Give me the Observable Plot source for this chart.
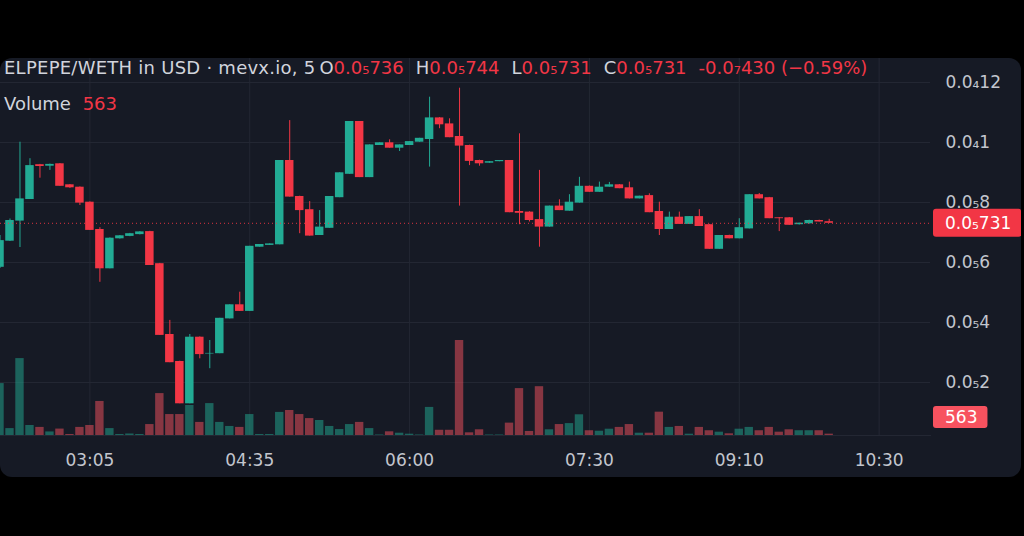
<!DOCTYPE html>
<html><head><meta charset="utf-8">
<script src="https://cdn.jsdelivr.net/npm/d3@7"></script>
<script src="https://cdn.jsdelivr.net/npm/@observablehq/plot@0.6"></script>
<style>
html,body{margin:0;padding:0;background:#000;width:1024px;height:536px;overflow:hidden;}
#panel{position:absolute;left:0;top:58px;width:1021px;height:419px;background:#161a25;border-radius:12px;overflow:hidden;font-family:"DejaVu Sans",sans-serif;}
#panel svg{position:absolute;left:0;top:0;}
.hdr{position:absolute;left:4px;font-size:18px;line-height:21px;color:#d1d4dc;white-space:nowrap;z-index:5;}
.t{letter-spacing:0.25px;margin-right:4px;}
.v{color:#f23645;}
.g{margin-left:12px;}
</style></head><body>
<div id="panel"></div>
<script>
// ---- data (prices in millionths of USD, i.e. value × 1e-6) ----
const UNIT = 1e-6;
const title = "ELPEPE/WETH in USD · mevx.io, 5";
const openP = [5.84,6.71,7.38,8.10,9.26,9.21,9.29,8.59,8.51,8.01, 7.10,5.79,6.79,6.87,6.93,7.03,5.96,3.60,2.70,1.29, 3.51,2.95,2.96,4.12,4.59,4.37,6.51,6.57,6.59,9.40, 8.20,7.76,6.90,7.14,8.16,8.94,10.70,8.83,9.90,9.99, 9.81,9.90,10.01,10.10,10.82,10.62,10.20,9.90,9.40,9.31, 9.36,9.40,7.70,7.68,7.43,7.18,7.88,7.71,7.98,8.54, 8.34,8.51,8.59,8.49,8.12,8.23,7.70,7.10,7.51,7.27, 7.53,7.26,6.44,6.90,6.79,7.12,8.26,8.16,7.49,7.49, 7.26,7.29,7.40,7.36];
const highP = [6.90,7.45,10.01,9.46,9.27,9.28,9.30,8.60,8.52,8.02, 7.16,6.82,6.90,6.97,7.03,7.04,5.97,4.07,2.71,3.60, 3.52,3.40,4.14,4.59,5.01,6.54,6.60,6.62,9.40,10.73, 8.21,8.03,7.73,8.20,8.99,10.70,10.70,9.92,9.99,10.09, 9.92,10.03,10.14,11.51,10.83,10.79,11.81,9.91,9.41,9.36, 9.40,9.40,10.29,7.69,9.07,7.88,8.09,8.26,8.84,8.55, 8.68,8.67,8.60,8.68,8.21,8.29,8.01,7.68,7.68,7.53, 7.76,7.27,6.90,6.91,7.46,8.26,8.30,8.17,7.50,7.50, 7.31,7.41,7.41,7.44];
const lowP = [5.80,6.70,6.50,8.10,8.81,9.07,8.54,8.47,7.90,7.07, 5.34,5.79,6.78,6.86,6.92,5.90,3.57,2.66,1.29,1.29, 2.79,2.46,2.96,4.12,4.37,4.37,6.51,6.57,6.59,8.18, 6.96,6.88,6.90,7.14,8.16,8.94,8.83,8.83,9.90,9.81, 9.70,9.90,10.01,9.18,10.46,10.16,7.88,9.23,9.21,9.31, 9.36,7.66,7.26,7.35,6.51,7.18,7.73,7.71,7.98,8.34, 8.34,8.51,8.46,8.12,8.12,7.66,6.90,7.10,7.27,7.27, 7.20,6.44,6.44,6.79,6.79,7.12,8.12,7.46,7.03,7.24, 7.25,7.28,7.35,7.307];
const closeP = [6.73,7.40,8.12,9.23,9.20,9.27,8.54,8.49,7.98,7.07, 5.79,6.81,6.89,6.96,7.02,5.90,3.57,2.66,1.29,3.51, 2.93,2.97,4.14,4.59,4.37,6.54,6.60,6.62,9.40,8.18, 7.73,6.88,7.18,8.20,8.99,10.70,8.83,9.92,9.99,9.81, 9.92,10.03,10.14,10.82,10.59,10.16,9.88,9.37,9.29,9.36, 9.40,7.66,7.64,7.40,7.18,7.88,7.73,8.01,8.54,8.34, 8.51,8.59,8.46,8.12,8.21,7.66,7.10,7.51,7.27,7.53, 7.20,6.44,6.90,6.79,7.16,8.26,8.12,7.46,7.46,7.24, 7.31,7.40,7.350,7.307];
const volume = [21800,2900,32300,4200,3400,1500,2700,420,3400,4200, 14300,2900,420,630,420,4600,17600,8800,8800,12600, 5500,13400,5500,3800,3400,8800,420,420,9700,10500, 8800,7100,6300,3800,2500,4600,5500,2900,210,1550, 970,550,210,11800,2200,2200,39900,1130,2400,210, 210,5200,19700,1700,20500,2400,4600,5000,8700,2000, 1800,2650,3400,4600,970,970,9800,3400,3800,550, 3400,2000,1400,710,2650,3400,2000,3400,1400,2400, 2000,2000,2000,563];
const tickIndex = [9, 25, 41, 59, 74, 88];
const tickLabel = ["03:05", "04:35", "06:00", "07:30", "09:10", "10:30"];
const priceTicks = [2, 4, 6, 8, 10, 12];

// ---- styling ----
const GREEN = "#22ab94", RED = "#f23645", VRED = "#f7525f";
const GRID = "#232733", AXIS_TXT = "#c3c6ce";
const W = 1021, H = 419;

const SUB = "₀₁₂₃₄₅₆₇₈₉";
function tvFormat(v, sig) {
  const sign = v < 0 ? "-" : "";
  const [m, ex] = Math.abs(v).toExponential((sig || 4) - 1).split("e");
  let digits = m.replace(".", "");
  if (!sig) digits = digits.replace(/0+$/, "") || "0";
  const zeros = -(+ex) - 1;
  return sign + "0.0" + [...String(zeros)].map(c => SUB[+c]).join("") + digits;
}

const candles = openP.map((o, i) => ({i, open: o, high: highP[i], low: lowP[i], close: closeP[i], volume: volume[i], up: closeP[i] >= o}));
const col = d => d.up ? GREEN : RED;
const vcol = d => d.up ? GREEN : VRED;

const xOpt = {type: "linear", domain: [0, 92], range: [-0.5, 918.6], axis: null};
const layer = (marks, y) => Plot.plot({
  width: W, height: H,
  marginTop: 0, marginRight: 91, marginBottom: 42, marginLeft: 0,
  style: {background: "transparent", fontFamily: '"DejaVu Sans", sans-serif', overflow: "visible"},
  x: xOpt, y: {...y, axis: null}, color: {type: "identity"},
  marks
});

const priceY = {domain: [0, 12], range: [384, 24]};

const gridLayer = layer([
  Plot.gridX(tickIndex, {stroke: GRID, strokeOpacity: 1}),
  Plot.gridY(priceTicks, {stroke: GRID, strokeOpacity: 1}),
  Plot.frame({anchor: "bottom", stroke: GRID}),
  Plot.axisX(tickIndex, {tickSize: 0, tickPadding: 18, label: null, fontSize: 17, color: AXIS_TXT,
    tickFormat: d => tickLabel[tickIndex.indexOf(d)]}),
  Plot.axisY(priceTicks, {anchor: "right", tickSize: 0, tickPadding: 15, label: null, fontSize: 17, color: AXIS_TXT,
    textAnchor: "start", tickFormat: d => tvFormat(d * UNIT)})
], priceY);

const volLayer = layer([
  Plot.rectY(candles, {x1: d => d.i - 0.5, x2: d => d.i + 0.5, y: "volume", insetLeft: 0.8, insetRight: 0.8,
    fill: vcol, fillOpacity: 0.5})
], {domain: [0, 42000], range: [377, 277]});

const n = candles.length - 1;
const candleLayer = layer([
  Plot.ruleX(candles, {x: "i", y1: "low", y2: "high", stroke: col, strokeWidth: 1}),
  Plot.rect(candles, {x1: d => d.i - 0.5, x2: d => d.i + 0.5, y1: "open", y2: "close", insetLeft: 0.75, insetRight: 0.75, fill: col}),
  Plot.ruleY([closeP[n]], {stroke: RED, strokeDasharray: "1,3", strokeOpacity: 0.9})
], priceY);

const panel = document.getElementById("panel");
panel.append(gridLayer, volLayer, candleLayer);

// price and volume labels on the right axis
function badge(svg, cy, h, fill, txt) {
  const g = svg.append("g");
  const r = g.append("rect").attr("x", 933).attr("y", cy - h / 2).attr("height", h).attr("rx", 3).attr("fill", fill);
  const t = g.append("text").attr("x", 945).attr("y", cy).attr("dy", "0.35em").attr("fill", "#ffffff")
    .attr("text-anchor", "start")
    .attr("font-size", 17).attr("font-family", '"DejaVu Sans", sans-serif').text(txt);
  const w = t.node().getComputedTextLength();
  r.attr("width", w + 22);
}
const svgC = d3.select(candleLayer);
badge(svgC, candleLayer.scale("y").apply(closeP[n]), 28, RED, tvFormat(closeP[n] * UNIT, 3));
badge(svgC, volLayer.scale("y").apply(0) - 18, 22, VRED, String(volume[n]));

// header legend
const chg = (closeP[n] - closeP[n - 1]) * UNIT;
const pct = (closeP[n] - closeP[n - 1]) / closeP[n - 1] * 100;
const h1 = document.createElement("div");
h1.className = "hdr"; h1.style.top = "-1px";
h1.innerHTML = `<span class="t">${title}</span>O<span class="v">${tvFormat(openP[n] * UNIT, 3)}</span>` +
  `<span class="g">H</span><span class="v">${tvFormat(highP[n] * UNIT, 3)}</span>` +
  `<span class="g">L</span><span class="v">${tvFormat(lowP[n] * UNIT, 3)}</span>` +
  `<span class="g">C</span><span class="v">${tvFormat(closeP[n] * UNIT, 3)}</span>` +
  `<span class="g v">${tvFormat(chg, 3)} (${pct < 0 ? "−" : "+"}${Math.abs(pct).toFixed(2)}%)</span>`;
const h2 = document.createElement("div");
h2.className = "hdr"; h2.style.top = "35px";
h2.innerHTML = `Volume <span class="v" style="margin-left:6px">${volume[n]}</span>`;
panel.append(h1, h2);
</script>
</body></html>
